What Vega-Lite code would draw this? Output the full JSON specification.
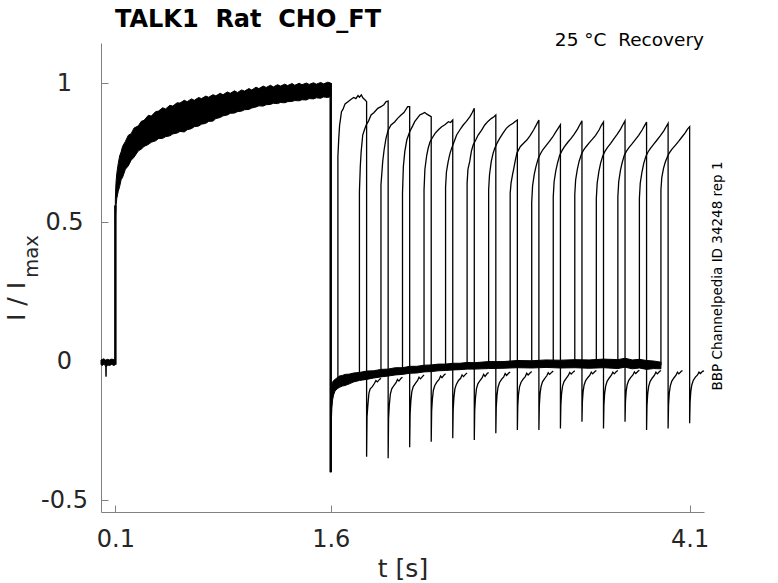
{
  "$schema": "https://vega.github.io/schema/vega-lite/v6.json",
  "description": "TALK1 Rat CHO_FT recovery protocol, normalised current traces.",
  "width": 603,
  "height": 469,
  "autosize": "none",
  "padding": {"left": 101, "top": 43, "right": 74, "bottom": 71},
  "background": "white",
  "config": {"font": "DejaVu Sans", "view": {"stroke": null}},
  "datasets": {
    "bands": [
      {"g": "p", "t": 0, "v": -0.013, "v2": 0.004},
      {"g": "p", "t": 0.01, "v": -0.016, "v2": 0.006},
      {"g": "p", "t": 0.02, "v": -0.011, "v2": 0.008},
      {"g": "p", "t": 0.03, "v": -0.017, "v2": 0.004},
      {"g": "p", "t": 0.033, "v": -0.022, "v2": 0.004},
      {"g": "p", "t": 0.035, "v": -0.056, "v2": 0.003},
      {"g": "p", "t": 0.037, "v": -0.022, "v2": 0.005},
      {"g": "p", "t": 0.045, "v": -0.014, "v2": 0.006},
      {"g": "p", "t": 0.06, "v": -0.016, "v2": 0.004},
      {"g": "p", "t": 0.075, "v": -0.012, "v2": 0.007},
      {"g": "p", "t": 0.09, "v": -0.016, "v2": 0.005},
      {"g": "p", "t": 0.1, "v": -0.013, "v2": 0.006},
      {"g": "a", "t": 0.1, "v": 0.5, "v2": 0.58},
      {"g": "a", "t": 0.102, "v": 0.53, "v2": 0.615},
      {"g": "a", "t": 0.105, "v": 0.56, "v2": 0.645},
      {"g": "a", "t": 0.11, "v": 0.585, "v2": 0.675},
      {"g": "a", "t": 0.12, "v": 0.61, "v2": 0.71},
      {"g": "a", "t": 0.13, "v": 0.628, "v2": 0.738},
      {"g": "a", "t": 0.14, "v": 0.652, "v2": 0.752},
      {"g": "a", "t": 0.15, "v": 0.66, "v2": 0.772},
      {"g": "a", "t": 0.17, "v": 0.69, "v2": 0.79},
      {"g": "a", "t": 0.19, "v": 0.702, "v2": 0.812},
      {"g": "a", "t": 0.21, "v": 0.722, "v2": 0.818},
      {"g": "a", "t": 0.23, "v": 0.733, "v2": 0.838},
      {"g": "a", "t": 0.26, "v": 0.756, "v2": 0.846},
      {"g": "a", "t": 0.28, "v": 0.762, "v2": 0.862},
      {"g": "a", "t": 0.3, "v": 0.772, "v2": 0.866},
      {"g": "a", "t": 0.33, "v": 0.779, "v2": 0.884},
      {"g": "a", "t": 0.35, "v": 0.787, "v2": 0.881},
      {"g": "a", "t": 0.38, "v": 0.792, "v2": 0.897},
      {"g": "a", "t": 0.4, "v": 0.8, "v2": 0.899},
      {"g": "a", "t": 0.43, "v": 0.801, "v2": 0.911},
      {"g": "a", "t": 0.45, "v": 0.807, "v2": 0.907},
      {"g": "a", "t": 0.48, "v": 0.81, "v2": 0.92},
      {"g": "a", "t": 0.5, "v": 0.817, "v2": 0.917},
      {"g": "a", "t": 0.53, "v": 0.82, "v2": 0.929},
      {"g": "a", "t": 0.55, "v": 0.826, "v2": 0.928},
      {"g": "a", "t": 0.58, "v": 0.824, "v2": 0.938},
      {"g": "a", "t": 0.6, "v": 0.832, "v2": 0.933},
      {"g": "a", "t": 0.63, "v": 0.836, "v2": 0.943},
      {"g": "a", "t": 0.65, "v": 0.843, "v2": 0.938},
      {"g": "a", "t": 0.68, "v": 0.845, "v2": 0.948},
      {"g": "a", "t": 0.7, "v": 0.852, "v2": 0.944},
      {"g": "a", "t": 0.73, "v": 0.855, "v2": 0.953},
      {"g": "a", "t": 0.75, "v": 0.862, "v2": 0.949},
      {"g": "a", "t": 0.78, "v": 0.863, "v2": 0.958},
      {"g": "a", "t": 0.8, "v": 0.872, "v2": 0.954},
      {"g": "a", "t": 0.83, "v": 0.876, "v2": 0.963},
      {"g": "a", "t": 0.85, "v": 0.882, "v2": 0.958},
      {"g": "a", "t": 0.88, "v": 0.885, "v2": 0.968},
      {"g": "a", "t": 0.9, "v": 0.891, "v2": 0.963},
      {"g": "a", "t": 0.93, "v": 0.892, "v2": 0.972},
      {"g": "a", "t": 0.95, "v": 0.897, "v2": 0.966},
      {"g": "a", "t": 0.98, "v": 0.899, "v2": 0.975},
      {"g": "a", "t": 1.0, "v": 0.904, "v2": 0.971},
      {"g": "a", "t": 1.03, "v": 0.905, "v2": 0.98},
      {"g": "a", "t": 1.05, "v": 0.91, "v2": 0.975},
      {"g": "a", "t": 1.08, "v": 0.914, "v2": 0.985},
      {"g": "a", "t": 1.1, "v": 0.918, "v2": 0.98},
      {"g": "a", "t": 1.13, "v": 0.917, "v2": 0.989},
      {"g": "a", "t": 1.15, "v": 0.922, "v2": 0.984},
      {"g": "a", "t": 1.18, "v": 0.923, "v2": 0.992},
      {"g": "a", "t": 1.2, "v": 0.927, "v2": 0.986},
      {"g": "a", "t": 1.23, "v": 0.926, "v2": 0.994},
      {"g": "a", "t": 1.25, "v": 0.93, "v2": 0.989},
      {"g": "a", "t": 1.28, "v": 0.929, "v2": 0.996},
      {"g": "a", "t": 1.3, "v": 0.933, "v2": 0.991},
      {"g": "a", "t": 1.33, "v": 0.934, "v2": 0.998},
      {"g": "a", "t": 1.35, "v": 0.937, "v2": 0.992},
      {"g": "a", "t": 1.38, "v": 0.936, "v2": 0.999},
      {"g": "a", "t": 1.4, "v": 0.94, "v2": 0.994},
      {"g": "a", "t": 1.43, "v": 0.939, "v2": 1.0},
      {"g": "a", "t": 1.45, "v": 0.944, "v2": 0.995},
      {"g": "a", "t": 1.48, "v": 0.943, "v2": 1.001},
      {"g": "a", "t": 1.5, "v": 0.947, "v2": 0.996},
      {"g": "a", "t": 1.53, "v": 0.945, "v2": 1.002},
      {"g": "a", "t": 1.55, "v": 0.95, "v2": 0.997},
      {"g": "a", "t": 1.58, "v": 0.948, "v2": 1.003},
      {"g": "a", "t": 1.6, "v": 0.952, "v2": 1.0},
      {"g": "b", "t": 1.6, "v": -0.4, "v2": -0.3},
      {"g": "b", "t": 1.601, "v": -0.32, "v2": -0.13},
      {"g": "b", "t": 1.604, "v": -0.22, "v2": -0.1},
      {"g": "b", "t": 1.608, "v": -0.17, "v2": -0.085},
      {"g": "b", "t": 1.613, "v": -0.14, "v2": -0.076},
      {"g": "b", "t": 1.62, "v": -0.122, "v2": -0.07},
      {"g": "b", "t": 1.63, "v": -0.108, "v2": -0.066},
      {"g": "b", "t": 1.645, "v": -0.1, "v2": -0.06},
      {"g": "b", "t": 1.66, "v": -0.095, "v2": -0.054},
      {"g": "b", "t": 1.68, "v": -0.09, "v2": -0.052},
      {"g": "b", "t": 1.7, "v": -0.088, "v2": -0.048},
      {"g": "b", "t": 1.73, "v": -0.082, "v2": -0.047},
      {"g": "b", "t": 1.76, "v": -0.075, "v2": -0.043},
      {"g": "b", "t": 1.8, "v": -0.07, "v2": -0.041},
      {"g": "b", "t": 1.85, "v": -0.066, "v2": -0.036},
      {"g": "b", "t": 1.9, "v": -0.061, "v2": -0.035},
      {"g": "b", "t": 1.95, "v": -0.057, "v2": -0.03},
      {"g": "b", "t": 2.0, "v": -0.054, "v2": -0.029},
      {"g": "b", "t": 2.05, "v": -0.05, "v2": -0.024},
      {"g": "b", "t": 2.1, "v": -0.048, "v2": -0.024},
      {"g": "b", "t": 2.15, "v": -0.044, "v2": -0.019},
      {"g": "b", "t": 2.2, "v": -0.043, "v2": -0.019},
      {"g": "b", "t": 2.25, "v": -0.039, "v2": -0.015},
      {"g": "b", "t": 2.3, "v": -0.038, "v2": -0.014},
      {"g": "b", "t": 2.35, "v": -0.035, "v2": -0.011},
      {"g": "b", "t": 2.4, "v": -0.034, "v2": -0.011},
      {"g": "b", "t": 2.45, "v": -0.032, "v2": -0.008},
      {"g": "b", "t": 2.5, "v": -0.031, "v2": -0.008},
      {"g": "b", "t": 2.55, "v": -0.029, "v2": -0.005},
      {"g": "b", "t": 2.6, "v": -0.029, "v2": -0.006},
      {"g": "b", "t": 2.7, "v": -0.027, "v2": -0.002},
      {"g": "b", "t": 2.8, "v": -0.026, "v2": -0.002},
      {"g": "b", "t": 2.9, "v": -0.024, "v2": 0.002},
      {"g": "b", "t": 3.0, "v": -0.025, "v2": 0.001},
      {"g": "b", "t": 3.1, "v": -0.023, "v2": 0.004},
      {"g": "b", "t": 3.2, "v": -0.025, "v2": 0.003},
      {"g": "b", "t": 3.3, "v": -0.024, "v2": 0.005},
      {"g": "b", "t": 3.4, "v": -0.026, "v2": 0.004},
      {"g": "b", "t": 3.5, "v": -0.024, "v2": 0.007},
      {"g": "b", "t": 3.6, "v": -0.027, "v2": 0.005},
      {"g": "b", "t": 3.65, "v": -0.022, "v2": 0.01},
      {"g": "b", "t": 3.7, "v": -0.028, "v2": 0.004},
      {"g": "b", "t": 3.75, "v": -0.025, "v2": 0.006},
      {"g": "b", "t": 3.8, "v": -0.03, "v2": 0.002},
      {"g": "b", "t": 3.85, "v": -0.027, "v2": 0.0},
      {"g": "b", "t": 3.9, "v": -0.028, "v2": -0.004}
    ],
    "steps": [
      {"t": 0.1, "v": -0.013, "v2": 0.56},
      {"t": 1.6, "v": -0.4, "v2": 1.0}
    ],
    "pulses": [
      {"s": 0, "t": 1.65, "v": -0.08}, {"s": 0, "t": 1.65, "v": 0.735}, {"s": 0, "t": 1.656, "v": 0.8}, {"s": 0, "t": 1.662, "v": 0.849}, {"s": 0, "t": 1.668, "v": 0.87}, {"s": 0, "t": 1.675, "v": 0.897}, {"s": 0, "t": 1.685, "v": 0.905}, {"s": 0, "t": 1.7, "v": 0.925}, {"s": 0, "t": 1.72, "v": 0.933}, {"s": 0, "t": 1.74, "v": 0.941}, {"s": 0, "t": 1.76, "v": 0.948}, {"s": 0, "t": 1.775, "v": 0.944}, {"s": 0, "t": 1.79, "v": 0.955}, {"s": 0, "t": 1.8, "v": 0.949}, {"s": 0, "t": 1.813, "v": 0.957}, {"s": 0, "t": 1.825, "v": 0.946}, {"s": 0, "t": 1.838, "v": 0.94}, {"s": 0, "t": 1.85, "v": 0.933},
      {"s": 0, "t": 1.85, "v": -0.344}, {"s": 0, "t": 1.853, "v": -0.2}, {"s": 0, "t": 1.858, "v": -0.164}, {"s": 0, "t": 1.866, "v": -0.116}, {"s": 0, "t": 1.875, "v": -0.1}, {"s": 0, "t": 1.89, "v": -0.092}, {"s": 0, "t": 1.905, "v": -0.08}, {"s": 0, "t": 1.915, "v": -0.07}, {"s": 0, "t": 1.925, "v": -0.075}, {"s": 0, "t": 1.94, "v": -0.066}, {"s": 0, "t": 1.95, "v": -0.062},
      {"s": 1, "t": 1.8, "v": -0.055}, {"s": 1, "t": 1.8, "v": 0.609}, {"s": 1, "t": 1.806, "v": 0.7}, {"s": 1, "t": 1.812, "v": 0.753}, {"s": 1, "t": 1.823, "v": 0.813}, {"s": 1, "t": 1.835, "v": 0.832}, {"s": 1, "t": 1.847, "v": 0.849}, {"s": 1, "t": 1.862, "v": 0.862}, {"s": 1, "t": 1.881, "v": 0.885}, {"s": 1, "t": 1.9, "v": 0.893}, {"s": 1, "t": 1.928, "v": 0.909}, {"s": 1, "t": 1.95, "v": 0.915}, {"s": 1, "t": 1.97, "v": 0.922}, {"s": 1, "t": 1.986, "v": 0.933}, {"s": 1, "t": 2.0, "v": 0.935},
      {"s": 1, "t": 2.0, "v": -0.35}, {"s": 1, "t": 2.003, "v": -0.205}, {"s": 1, "t": 2.008, "v": -0.16}, {"s": 1, "t": 2.015, "v": -0.12}, {"s": 1, "t": 2.025, "v": -0.1}, {"s": 1, "t": 2.04, "v": -0.088}, {"s": 1, "t": 2.055, "v": -0.078}, {"s": 1, "t": 2.065, "v": -0.066}, {"s": 1, "t": 2.075, "v": -0.072}, {"s": 1, "t": 2.09, "v": -0.062}, {"s": 1, "t": 2.1, "v": -0.058},
      {"s": 2, "t": 1.95, "v": -0.048}, {"s": 2, "t": 1.95, "v": 0.633}, {"s": 2, "t": 1.962, "v": 0.717}, {"s": 2, "t": 1.972, "v": 0.76}, {"s": 2, "t": 1.985, "v": 0.801}, {"s": 2, "t": 2.0, "v": 0.83}, {"s": 2, "t": 2.02, "v": 0.849}, {"s": 2, "t": 2.045, "v": 0.86}, {"s": 2, "t": 2.066, "v": 0.873}, {"s": 2, "t": 2.09, "v": 0.885}, {"s": 2, "t": 2.11, "v": 0.894}, {"s": 2, "t": 2.136, "v": 0.915}, {"s": 2, "t": 2.15, "v": 0.915},
      {"s": 2, "t": 2.15, "v": -0.31}, {"s": 2, "t": 2.153, "v": -0.19}, {"s": 2, "t": 2.158, "v": -0.145}, {"s": 2, "t": 2.165, "v": -0.11}, {"s": 2, "t": 2.175, "v": -0.092}, {"s": 2, "t": 2.19, "v": -0.08}, {"s": 2, "t": 2.205, "v": -0.07}, {"s": 2, "t": 2.215, "v": -0.058}, {"s": 2, "t": 2.225, "v": -0.064}, {"s": 2, "t": 2.24, "v": -0.055}, {"s": 2, "t": 2.25, "v": -0.05},
      {"s": 3, "t": 2.1, "v": -0.037}, {"s": 3, "t": 2.1, "v": 0.603}, {"s": 3, "t": 2.106, "v": 0.7}, {"s": 3, "t": 2.116, "v": 0.753}, {"s": 3, "t": 2.13, "v": 0.795}, {"s": 3, "t": 2.15, "v": 0.825}, {"s": 3, "t": 2.17, "v": 0.845}, {"s": 3, "t": 2.185, "v": 0.861}, {"s": 3, "t": 2.205, "v": 0.875}, {"s": 3, "t": 2.22, "v": 0.885}, {"s": 3, "t": 2.24, "v": 0.89}, {"s": 3, "t": 2.255, "v": 0.894}, {"s": 3, "t": 2.27, "v": 0.888}, {"s": 3, "t": 2.29, "v": 0.882}, {"s": 3, "t": 2.3, "v": 0.879},
      {"s": 3, "t": 2.3, "v": -0.29}, {"s": 3, "t": 2.303, "v": -0.18}, {"s": 3, "t": 2.308, "v": -0.138}, {"s": 3, "t": 2.315, "v": -0.105}, {"s": 3, "t": 2.325, "v": -0.088}, {"s": 3, "t": 2.34, "v": -0.075}, {"s": 3, "t": 2.355, "v": -0.066}, {"s": 3, "t": 2.365, "v": -0.054}, {"s": 3, "t": 2.375, "v": -0.06}, {"s": 3, "t": 2.39, "v": -0.05}, {"s": 3, "t": 2.4, "v": -0.046},
      {"s": 4, "t": 2.25, "v": -0.028}, {"s": 4, "t": 2.25, "v": 0.615}, {"s": 4, "t": 2.256, "v": 0.69}, {"s": 4, "t": 2.269, "v": 0.741}, {"s": 4, "t": 2.28, "v": 0.768}, {"s": 4, "t": 2.292, "v": 0.789}, {"s": 4, "t": 2.31, "v": 0.805}, {"s": 4, "t": 2.327, "v": 0.819}, {"s": 4, "t": 2.35, "v": 0.832}, {"s": 4, "t": 2.373, "v": 0.843}, {"s": 4, "t": 2.395, "v": 0.85}, {"s": 4, "t": 2.42, "v": 0.861}, {"s": 4, "t": 2.435, "v": 0.858}, {"s": 4, "t": 2.45, "v": 0.867},
      {"s": 4, "t": 2.45, "v": -0.278}, {"s": 4, "t": 2.453, "v": -0.175}, {"s": 4, "t": 2.458, "v": -0.132}, {"s": 4, "t": 2.465, "v": -0.1}, {"s": 4, "t": 2.475, "v": -0.084}, {"s": 4, "t": 2.49, "v": -0.07}, {"s": 4, "t": 2.505, "v": -0.062}, {"s": 4, "t": 2.515, "v": -0.05}, {"s": 4, "t": 2.525, "v": -0.056}, {"s": 4, "t": 2.54, "v": -0.047}, {"s": 4, "t": 2.55, "v": -0.043},
      {"s": 5, "t": 2.4, "v": -0.022}, {"s": 5, "t": 2.4, "v": 0.625}, {"s": 5, "t": 2.406, "v": 0.68}, {"s": 5, "t": 2.418, "v": 0.717}, {"s": 5, "t": 2.43, "v": 0.745}, {"s": 5, "t": 2.442, "v": 0.765}, {"s": 5, "t": 2.46, "v": 0.79}, {"s": 5, "t": 2.477, "v": 0.813}, {"s": 5, "t": 2.5, "v": 0.832}, {"s": 5, "t": 2.523, "v": 0.849}, {"s": 5, "t": 2.545, "v": 0.862}, {"s": 5, "t": 2.57, "v": 0.879}, {"s": 5, "t": 2.585, "v": 0.893}, {"s": 5, "t": 2.6, "v": 0.909},
      {"s": 5, "t": 2.6, "v": -0.284}, {"s": 5, "t": 2.603, "v": -0.178}, {"s": 5, "t": 2.608, "v": -0.134}, {"s": 5, "t": 2.615, "v": -0.1}, {"s": 5, "t": 2.625, "v": -0.082}, {"s": 5, "t": 2.64, "v": -0.07}, {"s": 5, "t": 2.655, "v": -0.06}, {"s": 5, "t": 2.665, "v": -0.048}, {"s": 5, "t": 2.675, "v": -0.055}, {"s": 5, "t": 2.69, "v": -0.045}, {"s": 5, "t": 2.7, "v": -0.041},
      {"s": 6, "t": 2.55, "v": -0.018}, {"s": 6, "t": 2.55, "v": 0.64}, {"s": 6, "t": 2.556, "v": 0.69}, {"s": 6, "t": 2.568, "v": 0.717}, {"s": 6, "t": 2.58, "v": 0.755}, {"s": 6, "t": 2.592, "v": 0.777}, {"s": 6, "t": 2.61, "v": 0.795}, {"s": 6, "t": 2.627, "v": 0.813}, {"s": 6, "t": 2.65, "v": 0.83}, {"s": 6, "t": 2.673, "v": 0.849}, {"s": 6, "t": 2.695, "v": 0.862}, {"s": 6, "t": 2.72, "v": 0.873}, {"s": 6, "t": 2.735, "v": 0.878}, {"s": 6, "t": 2.75, "v": 0.885},
      {"s": 6, "t": 2.75, "v": -0.26}, {"s": 6, "t": 2.753, "v": -0.165}, {"s": 6, "t": 2.758, "v": -0.125}, {"s": 6, "t": 2.765, "v": -0.095}, {"s": 6, "t": 2.775, "v": -0.078}, {"s": 6, "t": 2.79, "v": -0.066}, {"s": 6, "t": 2.805, "v": -0.057}, {"s": 6, "t": 2.815, "v": -0.045}, {"s": 6, "t": 2.825, "v": -0.052}, {"s": 6, "t": 2.84, "v": -0.043}, {"s": 6, "t": 2.85, "v": -0.04},
      {"s": 7, "t": 2.7, "v": -0.014}, {"s": 7, "t": 2.7, "v": 0.615}, {"s": 7, "t": 2.706, "v": 0.67}, {"s": 7, "t": 2.718, "v": 0.717}, {"s": 7, "t": 2.73, "v": 0.745}, {"s": 7, "t": 2.742, "v": 0.765}, {"s": 7, "t": 2.76, "v": 0.785}, {"s": 7, "t": 2.777, "v": 0.801}, {"s": 7, "t": 2.8, "v": 0.82}, {"s": 7, "t": 2.823, "v": 0.837}, {"s": 7, "t": 2.845, "v": 0.847}, {"s": 7, "t": 2.87, "v": 0.855}, {"s": 7, "t": 2.885, "v": 0.862}, {"s": 7, "t": 2.9, "v": 0.867},
      {"s": 7, "t": 2.9, "v": -0.248}, {"s": 7, "t": 2.903, "v": -0.16}, {"s": 7, "t": 2.908, "v": -0.12}, {"s": 7, "t": 2.915, "v": -0.093}, {"s": 7, "t": 2.925, "v": -0.077}, {"s": 7, "t": 2.94, "v": -0.065}, {"s": 7, "t": 2.955, "v": -0.056}, {"s": 7, "t": 2.965, "v": -0.044}, {"s": 7, "t": 2.975, "v": -0.05}, {"s": 7, "t": 2.99, "v": -0.042}, {"s": 7, "t": 3.0, "v": -0.038},
      {"s": 8, "t": 2.85, "v": -0.012}, {"s": 8, "t": 2.85, "v": 0.603}, {"s": 8, "t": 2.856, "v": 0.64}, {"s": 8, "t": 2.868, "v": 0.675}, {"s": 8, "t": 2.873, "v": 0.687}, {"s": 8, "t": 2.885, "v": 0.72}, {"s": 8, "t": 2.897, "v": 0.748}, {"s": 8, "t": 2.92, "v": 0.771}, {"s": 8, "t": 2.945, "v": 0.784}, {"s": 8, "t": 2.966, "v": 0.795}, {"s": 8, "t": 2.99, "v": 0.812}, {"s": 8, "t": 3.013, "v": 0.831}, {"s": 8, "t": 3.035, "v": 0.852}, {"s": 8, "t": 3.05, "v": 0.867},
      {"s": 8, "t": 3.05, "v": -0.248}, {"s": 8, "t": 3.053, "v": -0.16}, {"s": 8, "t": 3.058, "v": -0.118}, {"s": 8, "t": 3.065, "v": -0.092}, {"s": 8, "t": 3.075, "v": -0.075}, {"s": 8, "t": 3.09, "v": -0.063}, {"s": 8, "t": 3.105, "v": -0.053}, {"s": 8, "t": 3.115, "v": -0.042}, {"s": 8, "t": 3.125, "v": -0.048}, {"s": 8, "t": 3.14, "v": -0.04}, {"s": 8, "t": 3.15, "v": -0.036},
      {"s": 9, "t": 3.0, "v": -0.011}, {"s": 9, "t": 3.0, "v": 0.57}, {"s": 9, "t": 3.006, "v": 0.63}, {"s": 9, "t": 3.018, "v": 0.672}, {"s": 9, "t": 3.03, "v": 0.7}, {"s": 9, "t": 3.045, "v": 0.728}, {"s": 9, "t": 3.06, "v": 0.745}, {"s": 9, "t": 3.077, "v": 0.76}, {"s": 9, "t": 3.1, "v": 0.775}, {"s": 9, "t": 3.123, "v": 0.79}, {"s": 9, "t": 3.145, "v": 0.805}, {"s": 9, "t": 3.17, "v": 0.826}, {"s": 9, "t": 3.185, "v": 0.838}, {"s": 9, "t": 3.2, "v": 0.85},
      {"s": 9, "t": 3.2, "v": -0.243}, {"s": 9, "t": 3.203, "v": -0.158}, {"s": 9, "t": 3.208, "v": -0.117}, {"s": 9, "t": 3.215, "v": -0.09}, {"s": 9, "t": 3.225, "v": -0.074}, {"s": 9, "t": 3.24, "v": -0.062}, {"s": 9, "t": 3.255, "v": -0.052}, {"s": 9, "t": 3.265, "v": -0.041}, {"s": 9, "t": 3.275, "v": -0.047}, {"s": 9, "t": 3.29, "v": -0.039}, {"s": 9, "t": 3.3, "v": -0.035},
      {"s": 10, "t": 3.15, "v": -0.01}, {"s": 10, "t": 3.15, "v": 0.59}, {"s": 10, "t": 3.156, "v": 0.645}, {"s": 10, "t": 3.168, "v": 0.685}, {"s": 10, "t": 3.18, "v": 0.713}, {"s": 10, "t": 3.195, "v": 0.74}, {"s": 10, "t": 3.21, "v": 0.756}, {"s": 10, "t": 3.227, "v": 0.77}, {"s": 10, "t": 3.25, "v": 0.786}, {"s": 10, "t": 3.273, "v": 0.8}, {"s": 10, "t": 3.295, "v": 0.815}, {"s": 10, "t": 3.32, "v": 0.835}, {"s": 10, "t": 3.335, "v": 0.85}, {"s": 10, "t": 3.35, "v": 0.864},
      {"s": 10, "t": 3.35, "v": -0.218}, {"s": 10, "t": 3.353, "v": -0.145}, {"s": 10, "t": 3.358, "v": -0.11}, {"s": 10, "t": 3.365, "v": -0.086}, {"s": 10, "t": 3.375, "v": -0.071}, {"s": 10, "t": 3.39, "v": -0.06}, {"s": 10, "t": 3.405, "v": -0.051}, {"s": 10, "t": 3.415, "v": -0.04}, {"s": 10, "t": 3.425, "v": -0.046}, {"s": 10, "t": 3.44, "v": -0.038}, {"s": 10, "t": 3.45, "v": -0.034},
      {"s": 11, "t": 3.3, "v": -0.01}, {"s": 11, "t": 3.3, "v": 0.6}, {"s": 11, "t": 3.306, "v": 0.652}, {"s": 11, "t": 3.318, "v": 0.69}, {"s": 11, "t": 3.33, "v": 0.718}, {"s": 11, "t": 3.345, "v": 0.742}, {"s": 11, "t": 3.36, "v": 0.758}, {"s": 11, "t": 3.377, "v": 0.77}, {"s": 11, "t": 3.4, "v": 0.785}, {"s": 11, "t": 3.423, "v": 0.798}, {"s": 11, "t": 3.445, "v": 0.812}, {"s": 11, "t": 3.47, "v": 0.832}, {"s": 11, "t": 3.485, "v": 0.848}, {"s": 11, "t": 3.5, "v": 0.86},
      {"s": 11, "t": 3.5, "v": -0.243}, {"s": 11, "t": 3.503, "v": -0.158}, {"s": 11, "t": 3.508, "v": -0.116}, {"s": 11, "t": 3.515, "v": -0.09}, {"s": 11, "t": 3.525, "v": -0.073}, {"s": 11, "t": 3.54, "v": -0.061}, {"s": 11, "t": 3.555, "v": -0.051}, {"s": 11, "t": 3.565, "v": -0.04}, {"s": 11, "t": 3.575, "v": -0.046}, {"s": 11, "t": 3.59, "v": -0.038}, {"s": 11, "t": 3.6, "v": -0.034},
      {"s": 12, "t": 3.45, "v": -0.01}, {"s": 12, "t": 3.45, "v": 0.585}, {"s": 12, "t": 3.456, "v": 0.64}, {"s": 12, "t": 3.468, "v": 0.682}, {"s": 12, "t": 3.48, "v": 0.712}, {"s": 12, "t": 3.495, "v": 0.738}, {"s": 12, "t": 3.51, "v": 0.754}, {"s": 12, "t": 3.527, "v": 0.768}, {"s": 12, "t": 3.55, "v": 0.783}, {"s": 12, "t": 3.573, "v": 0.8}, {"s": 12, "t": 3.595, "v": 0.815}, {"s": 12, "t": 3.62, "v": 0.835}, {"s": 12, "t": 3.635, "v": 0.85}, {"s": 12, "t": 3.65, "v": 0.864},
      {"s": 12, "t": 3.65, "v": -0.218}, {"s": 12, "t": 3.653, "v": -0.145}, {"s": 12, "t": 3.658, "v": -0.108}, {"s": 12, "t": 3.665, "v": -0.085}, {"s": 12, "t": 3.675, "v": -0.07}, {"s": 12, "t": 3.69, "v": -0.059}, {"s": 12, "t": 3.705, "v": -0.05}, {"s": 12, "t": 3.715, "v": -0.039}, {"s": 12, "t": 3.725, "v": -0.045}, {"s": 12, "t": 3.74, "v": -0.037}, {"s": 12, "t": 3.75, "v": -0.033},
      {"s": 13, "t": 3.6, "v": -0.012}, {"s": 13, "t": 3.6, "v": 0.59}, {"s": 13, "t": 3.606, "v": 0.645}, {"s": 13, "t": 3.618, "v": 0.686}, {"s": 13, "t": 3.63, "v": 0.714}, {"s": 13, "t": 3.645, "v": 0.74}, {"s": 13, "t": 3.66, "v": 0.755}, {"s": 13, "t": 3.677, "v": 0.768}, {"s": 13, "t": 3.7, "v": 0.782}, {"s": 13, "t": 3.723, "v": 0.797}, {"s": 13, "t": 3.745, "v": 0.812}, {"s": 13, "t": 3.77, "v": 0.832}, {"s": 13, "t": 3.785, "v": 0.846}, {"s": 13, "t": 3.8, "v": 0.86},
      {"s": 13, "t": 3.8, "v": -0.248}, {"s": 13, "t": 3.803, "v": -0.16}, {"s": 13, "t": 3.808, "v": -0.117}, {"s": 13, "t": 3.815, "v": -0.09}, {"s": 13, "t": 3.825, "v": -0.073}, {"s": 13, "t": 3.84, "v": -0.061}, {"s": 13, "t": 3.855, "v": -0.051}, {"s": 13, "t": 3.865, "v": -0.04}, {"s": 13, "t": 3.875, "v": -0.046}, {"s": 13, "t": 3.89, "v": -0.038}, {"s": 13, "t": 3.9, "v": -0.034},
      {"s": 14, "t": 3.75, "v": -0.014}, {"s": 14, "t": 3.75, "v": 0.585}, {"s": 14, "t": 3.756, "v": 0.64}, {"s": 14, "t": 3.768, "v": 0.68}, {"s": 14, "t": 3.78, "v": 0.71}, {"s": 14, "t": 3.795, "v": 0.736}, {"s": 14, "t": 3.81, "v": 0.752}, {"s": 14, "t": 3.827, "v": 0.765}, {"s": 14, "t": 3.85, "v": 0.78}, {"s": 14, "t": 3.873, "v": 0.795}, {"s": 14, "t": 3.895, "v": 0.81}, {"s": 14, "t": 3.92, "v": 0.828}, {"s": 14, "t": 3.935, "v": 0.842}, {"s": 14, "t": 3.95, "v": 0.855},
      {"s": 14, "t": 3.95, "v": -0.243}, {"s": 14, "t": 3.953, "v": -0.158}, {"s": 14, "t": 3.958, "v": -0.116}, {"s": 14, "t": 3.965, "v": -0.09}, {"s": 14, "t": 3.975, "v": -0.073}, {"s": 14, "t": 3.99, "v": -0.061}, {"s": 14, "t": 4.005, "v": -0.051}, {"s": 14, "t": 4.015, "v": -0.04}, {"s": 14, "t": 4.025, "v": -0.046}, {"s": 14, "t": 4.04, "v": -0.038}, {"s": 14, "t": 4.05, "v": -0.034},
      {"s": 15, "t": 3.9, "v": -0.015}, {"s": 15, "t": 3.9, "v": 0.615}, {"s": 15, "t": 3.906, "v": 0.66}, {"s": 15, "t": 3.918, "v": 0.693}, {"s": 15, "t": 3.93, "v": 0.715}, {"s": 15, "t": 3.945, "v": 0.735}, {"s": 15, "t": 3.96, "v": 0.75}, {"s": 15, "t": 3.977, "v": 0.762}, {"s": 15, "t": 4.0, "v": 0.776}, {"s": 15, "t": 4.023, "v": 0.79}, {"s": 15, "t": 4.045, "v": 0.805}, {"s": 15, "t": 4.07, "v": 0.822}, {"s": 15, "t": 4.085, "v": 0.834}, {"s": 15, "t": 4.1, "v": 0.843},
      {"s": 15, "t": 4.1, "v": -0.224}, {"s": 15, "t": 4.103, "v": -0.148}, {"s": 15, "t": 4.108, "v": -0.11}, {"s": 15, "t": 4.115, "v": -0.086}, {"s": 15, "t": 4.125, "v": -0.07}, {"s": 15, "t": 4.14, "v": -0.058}, {"s": 15, "t": 4.155, "v": -0.05}, {"s": 15, "t": 4.165, "v": -0.04}, {"s": 15, "t": 4.175, "v": -0.045}, {"s": 15, "t": 4.19, "v": -0.037}, {"s": 15, "t": 4.2, "v": -0.035}
    ]
  },
  "layer": [
    {
      "encoding": {
        "x": {
          "field": "t",
          "type": "quantitative",
          "scale": {"domain": [0, 4.2], "nice": false, "zero": false},
          "axis": {
            "values": [0.1, 1.6, 4.1],
            "grid": false,
            "title": "t [s]",
            "titleFont": "DejaVu Sans",
            "titleFontSize": 25,
            "titleFontWeight": "normal",
            "titleColor": "#262626",
            "titleY": 64,
            "titleBaseline": "alphabetic",
            "domainColor": "#808080",
            "tickColor": "#808080",
            "tickSize": -7,
            "labelFont": "DejaVu Sans",
            "labelFontSize": 24,
            "labelColor": "#262626",
            "labelPadding": 22,
            "labelFlush": false,
            "labelExpr": "'' + datum.value"
          }
        },
        "y": {
          "field": "v",
          "type": "quantitative",
          "scale": {"domain": [-0.543, 1.144], "nice": false, "zero": false},
          "axis": {
            "values": [-0.5, 0, 0.5, 1],
            "grid": false,
            "title": "I / I",
            "titleFont": "DejaVu Sans",
            "titleFontSize": 25,
            "titleFontWeight": "normal",
            "titleColor": "#262626",
            "titleAngle": 270,
            "titleAlign": "center",
            "titleBaseline": "middle",
            "titleX": -85,
            "titleY": 258,
            "domainColor": "#808080",
            "tickColor": "#808080",
            "tickSize": -7,
            "labelFont": "DejaVu Sans",
            "labelFontSize": 24,
            "labelColor": "#262626",
            "labelAlign": "center",
            "labelBaseline": "middle",
            "labelPadding": 44,
            "labelFlush": false,
            "labelExpr": "'' + datum.value"
          }
        }
      },
      "layer": [
        {
          "data": {"name": "bands"},
          "mark": {"type": "area", "color": "black", "stroke": "black", "strokeWidth": 1},
          "encoding": {
            "y2": {"field": "v2"},
            "detail": {"field": "g"}
          }
        },
        {
          "data": {"name": "steps"},
          "mark": {"type": "rule", "color": "black", "strokeWidth": 2.5},
          "encoding": {
            "y2": {"field": "v2"}
          }
        },
        {
          "data": {"name": "pulses"},
          "mark": {"type": "line", "color": "black", "strokeWidth": 1.3},
          "encoding": {
            "detail": {"field": "s"},
            "order": {"value": null}
          }
        }
      ]
    },
    {
      "data": {"values": [{}]},
      "mark": {"type": "text", "text": "TALK1\u00a0\u00a0Rat\u00a0\u00a0CHO_FT", "align": "left", "baseline": "alphabetic", "fontSize": 24, "fontWeight": "bold", "color": "black"},
      "encoding": {
        "x": {"datum": 0.0975, "type": "quantitative"},
        "y": {"datum": 1.2025, "type": "quantitative"}
      }
    },
    {
      "data": {"values": [{}]},
      "mark": {"type": "text", "text": "25\u00a0°C\u00a0\u00a0Recovery", "align": "right", "baseline": "alphabetic", "fontSize": 18.5, "color": "black"},
      "encoding": {
        "x": {"datum": 4.2, "type": "quantitative"},
        "y": {"datum": 1.133, "type": "quantitative"}
      }
    },
    {
      "data": {"values": [{}]},
      "mark": {"type": "text", "text": "BBP Channelpedia ID 34248 rep 1", "angle": 270, "align": "center", "baseline": "middle", "fontSize": 13.5, "color": "black"},
      "encoding": {
        "x": {"datum": 4.296, "type": "quantitative"},
        "y": {"datum": 0.306, "type": "quantitative"}
      }
    },
    {
      "data": {"values": [{}]},
      "mark": {"type": "text", "text": "max", "angle": 270, "align": "center", "baseline": "middle", "fontSize": 19.5, "color": "#262626"},
      "encoding": {
        "x": {"datum": -0.48, "type": "quantitative"},
        "y": {"datum": 0.376, "type": "quantitative"}
      }
    }
  ]
}
